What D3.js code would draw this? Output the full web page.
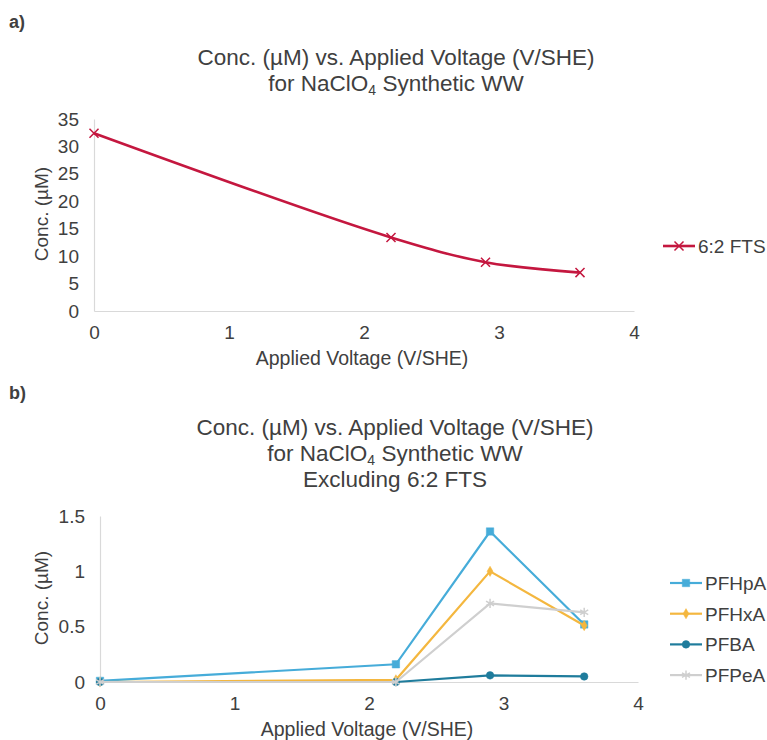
<!DOCTYPE html>
<html>
<head>
<meta charset="utf-8">
<script src="https://cdn.jsdelivr.net/npm/d3@7"></script>
<style>
  body { margin: 0; background: #fff; }
  text { font-family: "Liberation Sans", Arial, sans-serif; fill: #404040; }
</style>
</head>
<body>
<div class="vis"></div>
<script>
// data
const voltages = [0, 2.2, 2.9, 3.6];
const fts62 = [32.4, 13.4, 8.9, 7.0];
const pfhpa = [0.01, 0.16, 1.36, 0.52];
const pfhxa = [0, 0.02, 1.0, 0.51];
const pfba = [0, 0, 0.06, 0.05];
const pfpea = [0, 0, 0.71, 0.63];
const xTicks = [0, 1, 2, 3, 4];
const yTicksA = [0, 5, 10, 15, 20, 25, 30, 35];
const yTicksB = [0, 0.5, 1, 1.5];

const width = 767, height = 740;
const svg = d3.select(".vis").append("svg")
	.attr("width", width)
	.attr("height", height);

function title(lines, cx, y0) {
	lines.forEach((ln, i) => {
		let t = svg.append("text")
			.attr("x", cx).attr("y", y0 + i * 26)
			.attr("text-anchor", "middle")
			.style("font-size", "22.5px");
		let shift = 0;
		ln.forEach(part => {
			if (typeof part === "object") {
				// subscript, lowered then restored on the next piece
				t.append("tspan").attr("dy", 4).style("font-size", "14px").text(part.low);
				shift = -4;
			} else {
				t.append("tspan").attr("dy", shift).text(part);
				shift = 0;
			}
		});
	});
}

function panel(opts) {
	let x = d3.scaleLinear().domain([0, 4]).range(opts.xr);
	let y = d3.scaleLinear().domain([0, opts.ymax]).range(opts.yr);

	// axes
	let gx = svg.append("g")
		.attr("transform", "translate(0," + opts.yr[0] + ")")
		.call(d3.axisBottom(x).tickValues(xTicks).tickFormat(d3.format("d")).tickSize(0).tickPadding(opts.xpad));
	let gy = svg.append("g")
		.attr("transform", "translate(" + opts.xr[0] + ",0)")
		.call(d3.axisLeft(y).tickValues(opts.yticks).tickFormat(d => d).tickSize(0).tickPadding(15));
	[gx, gy].forEach(g => {
		g.select(".domain").attr("stroke", "#d9d9d9").attr("stroke-width", 1.2);
		g.selectAll("text").style("font-size", "19px").attr("fill", "#404040")
			.style("font-family", "Liberation Sans, Arial, sans-serif");
	});

	// axis titles
	svg.append("text")
		.attr("x", (opts.xr[0] + opts.xr[1]) / 2 - 2).attr("y", opts.xtitleY)
		.attr("text-anchor", "middle").style("font-size", "19.5px")
		.text("Applied Voltage (V/SHE)");
	svg.append("text")
		.attr("transform", "translate(48," + opts.ytitleY + ") rotate(-90)")
		.attr("text-anchor", "middle").style("font-size", "19px")
		.text("Conc. (µM)");

	// series
	opts.series.forEach((s, si) => {
		let pts = voltages.map((v, i) => [x(v), y(s.values[i])]);
		svg.append("path")
			.attr("d", d3.line().curve(s.curve || d3.curveLinear)(pts))
			.attr("fill", "none")
			.attr("stroke", s.color)
			.attr("stroke-width", s.width || 2.2);
		svg.selectAll(null).data(pts).enter().append("path")
			.attr("transform", d => "translate(" + d[0] + "," + d[1] + ")")
			.attr("d", d3.symbol().type(s.symbol).size(s.size))
			.attr("fill", s.stroked ? "none" : s.color)
			.attr("stroke", s.color)
			.attr("stroke-width", s.stroked ? 1.5 : 0.5);

		// legend entry
		let ly = opts.legendY + si * opts.legendStep;
		svg.append("line")
			.attr("x1", opts.legendX).attr("x2", opts.legendX + 32)
			.attr("y1", ly).attr("y2", ly)
			.attr("stroke", s.color).attr("stroke-width", s.width || 2.2);
		svg.append("path")
			.attr("transform", "translate(" + (opts.legendX + 16) + "," + ly + ")")
			.attr("d", d3.symbol().type(s.symbol).size(s.size))
			.attr("fill", s.stroked ? "none" : s.color)
			.attr("stroke", s.color)
			.attr("stroke-width", s.stroked ? 1.5 : 0.5);
		svg.append("text")
			.attr("x", opts.legendX + 35).attr("y", ly + 7)
			.style("font-size", "19px")
			.text(s.name);
	});
}

// panel labels
svg.append("text").attr("x", 9).attr("y", 28).style("font-size", "18px")
	.style("font-weight", "bold").attr("fill", "#000").text("a)");
svg.append("text").attr("x", 9).attr("y", 399).style("font-size", "18px")
	.style("font-weight", "bold").attr("fill", "#000").text("b)");

title([["Conc. (µM) vs. Applied Voltage (V/SHE)"],
	["for NaClO", {low: "4"}, " Synthetic WW"]], 396, 65);
title([["Conc. (µM) vs. Applied Voltage (V/SHE)"],
	["for NaClO", {low: "4"}, " Synthetic WW"],
	["Excluding 6:2 FTS"]], 395, 435);

panel({
	xr: [94, 634], yr: [311, 119], ymax: 35, yticks: yTicksA,
	xpad: 15, xtitleY: 365, ytitleY: 214,
	legendX: 663, legendY: 246, legendStep: 0,
	series: [
		{name: "6:2 FTS", values: fts62, color: "#c4173f", symbol: d3.symbolTimes,
			size: 55, stroked: true, width: 2.6, curve: d3.curveCatmullRom}
	]
});

panel({
	xr: [100, 638], yr: [682, 516], ymax: 1.5, yticks: yTicksB,
	xpad: 15, xtitleY: 736, ytitleY: 598,
	legendX: 670, legendY: 583, legendStep: 30.7,
	series: [
		{name: "PFHpA", values: pfhpa, color: "#46acd9", symbol: d3.symbolSquare, size: 55},
		{name: "PFHxA", values: pfhxa, color: "#f4b73f", symbol: d3.symbolDiamond, size: 30},
		{name: "PFBA", values: pfba, color: "#1f7c9c", symbol: d3.symbolCircle, size: 45},
		{name: "PFPeA", values: pfpea, color: "#cfcfcf", symbol: d3.symbolAsterisk, size: 60, stroked: true}
	]
});
</script>
</body>
</html>
